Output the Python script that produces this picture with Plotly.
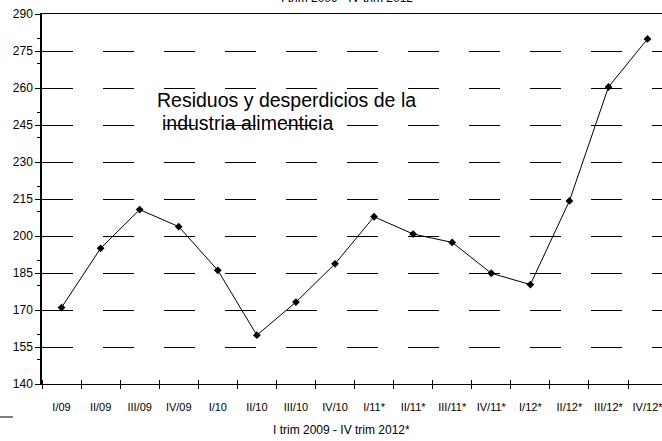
import plotly.graph_objects as go

categories = ["I/09", "II/09", "III/09", "IV/09", "I/10", "II/10", "III/10", "IV/10",
              "I/11*", "II/11*", "III/11*", "IV/11*", "I/12*", "II/12*", "III/12*", "IV/12*"]
values = [171, 195, 210.7, 203.8, 186.1, 159.8, 173.2, 188.7,
          207.8, 200.8, 197.4, 184.9, 180.3, 214.2, 260.4, 279.9]
y_ticks = [140, 155, 170, 185, 200, 215, 230, 245, 260, 275, 290]

FONT = "Liberation Sans, Arial, sans-serif"
x_idx = list(range(len(categories)))
x_range = [-0.5, 15.37]

fig = go.Figure()
fig.add_trace(go.Scatter(
    x=x_idx, y=values, mode="lines+markers",
    line=dict(color="black", width=1),
    marker=dict(symbol="diamond", size=6, color="black"),
    showlegend=False, hoverinfo="skip",
))
fig.add_trace(go.Scatter(x=[], y=[], xaxis="x2", showlegend=False, hoverinfo="skip"))

fig.update_layout(
    width=662, height=441,
    margin=dict(l=42, r=0, t=14, b=57),
    paper_bgcolor="white", plot_bgcolor="white",
    font=dict(family=FONT, color="black"),
    xaxis=dict(
        range=x_range, tickmode="array", tickvals=x_idx, ticktext=categories,
        ticks="", showgrid=False, zeroline=False,
        showline=True, linecolor="black", linewidth=1.3, mirror=True,
        tickfont=dict(size=11, family=FONT, color="black"),
        ticklabelstandoff=13, ticklabeloverflow="allow",
        minor=dict(ticks="outside", tickmode="linear", tick0=-0.5, dtick=1,
                   ticklen=4, tickcolor="black", tickwidth=1, showgrid=False),
    ),
    xaxis2=dict(
        overlaying="x", anchor="y", side="bottom", range=x_range,
        showticklabels=False, ticks="", showgrid=False, zeroline=False, showline=False,
        minor=dict(ticks="inside", tickmode="linear", tick0=-0.5, dtick=1,
                   ticklen=4, tickcolor="black", tickwidth=1, showgrid=False),
    ),
    yaxis=dict(
        range=[140, 290], tickmode="array", tickvals=y_ticks,
        ticks="outside", ticklen=5, tickcolor="black",
        showline=True, linecolor="black", linewidth=1.5,
        zeroline=False,
        showgrid=True, gridcolor="black", gridwidth=1, griddash="31px,30px",
        tickfont=dict(size=12, family=FONT, color="black"),
        minor=dict(ticks="outside", tickmode="linear", tick0=140, dtick=10,
                   ticklen=3, tickcolor="black", showgrid=False),
    ),
)

fig.add_annotation(text="Residuos y desperdicios de la", x=2.39, y=255.1,
                   xref="x", yref="y", xanchor="left", yanchor="middle",
                   showarrow=False, font=dict(size=19.5, family=FONT, color="black"))
fig.add_annotation(text="industria alimenticia", x=2.53, y=245.8,
                   xref="x", yref="y", xanchor="left", yanchor="middle",
                   showarrow=False, font=dict(size=19.5, family=FONT, color="black"))
fig.add_annotation(text="I trim 2009 - IV trim 2012*", x=(341 - 42) / 620, y=-0.124,
                   xref="paper", yref="paper", xanchor="center", yanchor="middle",
                   showarrow=False, font=dict(size=12, family=FONT, color="black"))
fig.add_annotation(text="I trim 2009 - IV trim 2012", x=(347 - 42) / 620, y=1.019,
                   xref="paper", yref="paper", xanchor="center", yanchor="bottom",
                   showarrow=False, font=dict(size=12, family=FONT, color="black"))
fig.add_shape(type="line", xref="paper", yref="paper",
              x0=-42 / 620, x1=(13 - 42) / 620, y0=(384 - 417) / 370, y1=(384 - 417) / 370,
              line=dict(color="black", width=1))

fig.write_html("out.html", config={"displayModeBar": False},
               post_script="document.body.style.margin='0';document.body.style.overflow='hidden';")
